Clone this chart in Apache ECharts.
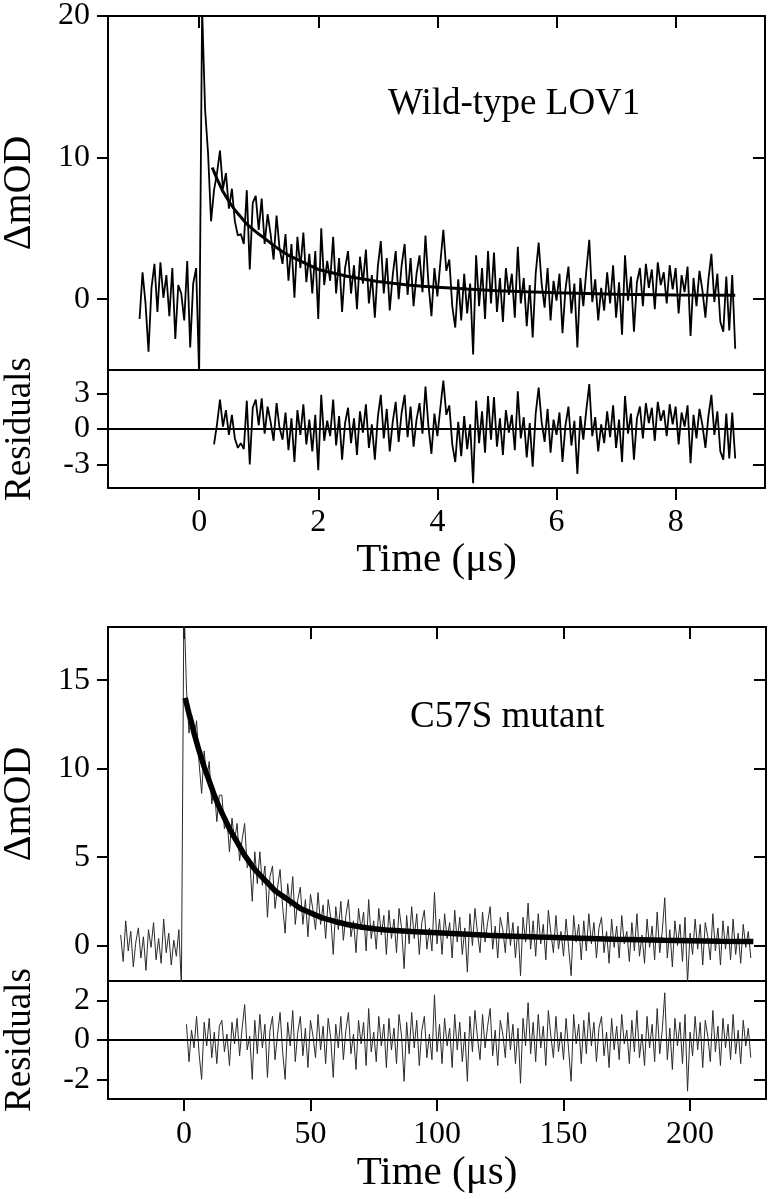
<!DOCTYPE html>
<html><head><meta charset="utf-8">
<script src="https://cdn.jsdelivr.net/npm/echarts@6/dist/echarts.min.js"></script>
<style>html,body{margin:0;padding:0;background:#fff}#c{width:769px;height:1199px}</style>
</head><body><div id="c"></div>
<script>
// ---------- Wild-type LOV1 (top panel), time in µs ----------
const topDataT0 = -1.0, topDataDt = 0.05;
const topData = [
 -1.4, 1.9, -0.3, -3.7, 0.8, 2.5, -0.9, 2.6, 0.1, 1.7, -1.2, 2.2, -2.8, 1.0, 0.4, -1.5, 2.7, -3.4, 1.1, 2.2,
 -5.4, 20.5, 13.4, 10.3, 5.5,
 7.7, 8.9, 10.5, 7.8, 8.9, 6.4, 7.8, 5.5, 4.5, 4.6, 3.9, 7.7, 2.1, 6.8, 7.3,
 4.9, 7.1, 3.9, 6.0, 4.6, 2.8, 5.9, 3.6, 2.5, 4.6, 1.3, 3.9, 0.1, 4.4, 2.2, 4.7, 1.2, 3.2, 0.4, 3.4,
 -1.4, 5.0, 1.0, 2.7, 1.3, 4.4, 0.4, 2.9, -0.9, 2.2, 3.4, 0.4, 2.4, -0.7, 3.0, 1.1, 3.5, -0.3, 1.7, -1.3,
 2.3, 4.1, 0.4, 2.9, -0.8, 1.7, 3.4, 0.0, 2.4, 3.9, 0.3, 2.9, -0.5, 1.8, 3.1, 0.5, 4.5, 1.1, -1.2, 2.2,
 0.2, 2.6, 4.9, 2.0, 2.8, -0.5, -2.0, 1.4, -1.5, 1.8, -1.0, 1.1, -3.9, 3.1, -0.5, 2.2, -1.4, 3.4, -0.3, 3.3,
 -0.9, 1.5, -1.6, 2.2, 0.3, 1.8, -1.3, 3.7, -0.3, 1.5, -1.9, 1.0, -2.7, 1.8, 4.0, 1.1, -0.6, 2.2, -1.5, 1.3,
 -0.1, 1.8, -2.4, 0.7, 2.3, -1.0, 1.1, -3.4, 1.5, -0.5, 2.0, 4.2, -0.2, 1.4, -1.5, 0.8, -0.8, 1.9, -0.3, 2.4,
 -1.3, 1.2, -2.5, 3.1, -0.1, 1.6, -2.3, 1.2, 2.2, -0.5, 2.5, 0.8, 2.1, -0.7, 2.6, 1.0, 1.9, -0.3, 2.4, 0.7,
 2.2, -1.0, 1.7, 0.5, 2.3, -2.6, 1.5, -0.5, 2.0, 0.6, -1.3, 1.4, 3.2, -0.2, 1.8, -1.6, -2.3, 1.6, -2.2, 1.7, -3.5
];
const topFitT = [0.22, 0.3, 0.4, 0.5, 0.6, 0.7, 0.8, 0.9, 1.0, 1.1, 1.25, 1.4, 1.5, 1.6, 1.75, 1.9, 2.0, 2.25, 2.5, 2.75, 3.0, 3.25, 3.5, 3.75, 4.0, 4.5, 5.0, 5.5, 6.0, 6.5, 7.0, 8.0, 9.0];
const topFitV = [9.3, 8.5, 7.6, 6.9, 6.3, 5.8, 5.3, 4.95, 4.6, 4.3, 3.8, 3.35, 3.1, 2.9, 2.6, 2.3, 2.1, 1.85, 1.6, 1.42, 1.25, 1.12, 1.0, 0.92, 0.85, 0.72, 0.6, 0.52, 0.45, 0.4, 0.35, 0.3, 0.28];
const topResT0 = 0.25, topResDt = 0.05;
const topRes = [
 -1.3, 0.4, 2.5, 0.2, 1.6, -0.5, 1.2, -0.8, -1.6, -1.2, -1.7, 2.4, -3.0, 1.8, 2.5,
 0.3, 2.6, -0.4, 1.9, 0.6, -1.0, 2.2, 0.1, -0.9, 1.4, -1.8, 0.9, -2.8, 1.6, -0.5, 2.1, -1.3, 0.8, -1.9, 1.2,
 -3.5, 2.9, -1.0, 0.7, -0.6, 2.5, -1.4, 1.1, -2.6, 0.5, 1.8, -1.2, 0.9, -2.2, 1.5, -0.3, 2.1, -1.6, 0.4, -2.6,
 1.0, 2.9, -0.8, 1.7, -1.9, 0.6, 2.3, -1.1, 1.4, 2.9, -0.7, 1.9, -1.5, 0.8, 2.2, -0.4, 3.6, 0.2, -2.1, 1.3,
 -0.6, 1.8, 4.1, 1.2, 2.0, -1.3, -2.8, 0.6, -2.3, 1.1, -1.7, 0.4, -4.6, 2.4, -1.2, 1.5, -2.0, 2.8, -0.9, 2.7,
 -1.5, 0.9, -2.2, 1.6, -0.3, 1.2, -1.8, 3.2, -0.8, 1.0, -2.4, 0.5, -3.2, 1.3, 3.5, 0.6, -1.1, 1.7, -2.0, 0.8,
 -0.5, 1.4, -2.8, 0.3, 1.9, -1.4, 0.7, -3.8, 1.1, -0.9, 1.6, 3.8, -0.6, 1.0, -1.9, 0.4, -1.2, 1.5, -0.7, 2.0,
 -1.6, 0.8, -2.8, 2.8, -0.4, 1.3, -2.6, 0.9, 1.9, -0.8, 2.2, 0.5, 1.8, -1.0, 2.3, 0.7, 1.6, -0.6, 2.1, 0.4,
 1.9, -1.3, 1.4, 0.2, 2.0, -2.9, 1.2, -0.8, 1.7, 0.3, -1.6, 1.1, 2.9, -0.5, 1.5, -1.9, -2.6, 1.3, -2.5, 1.4, -2.5
];
const topXTicks = [0, 2, 4, 6, 8];
const topYTicks = [0, 10, 20];
const topResTicks = [-3, 0, 3];

// ---------- C57S mutant (bottom panel), time in µs ----------
const botDataT0 = -25, botDataDt = 1;
const botData = [
 0.6, -0.9, 1.4, -0.3, 0.8, -1.2, 0.2, 1.0, -0.7, 0.5, -1.4, 0.9, -0.1, 1.3, -0.8, 0.4, -1.0, 1.5, -0.4, 0.7, -1.1, 0.3, -0.6, 0.9,
 -2.3, 19.5,
 14.5, 12.0, 13.1, 11.6, 12.7, 10.3, 8.6, 11.0, 9.4, 10.4, 8.0, 8.9, 7.0, 8.5, 8.5, 6.6, 7.2, 5.3, 7.2, 5.9,
 6.9, 4.8, 6.0, 6.9, 4.4, 4.9, 2.5, 5.3, 3.5, 5.3, 3.4, 4.5, 1.6, 3.9, 4.5, 2.1, 3.3, 4.3, 2.2, 0.7,
 3.5, 2.2, 3.9, 1.2, 2.6, 3.3, 1.2, 2.6, 0.5, 2.9, 2.0, 0.9, 3.0, 1.2, 2.3, 0.4, 2.6, 1.6, -0.5, 2.2,
 0.9, 2.5, 0.3, 1.7, 2.6, 0.5, 1.4, -0.4, 2.1, 0.9, 1.9, -0.3, 2.6, 0.4, 1.4, -0.2, 2.1, 0.6, 1.7, -0.5,
 2.0, 0.4, 1.5, -0.4, 2.1, 1.0, -1.3, 1.7, 0.1, 2.2, 0.4, 1.8, -0.5, 1.3, 2.0, -0.2, 1.0, -0.3, 3.0, 0.1,
 1.5, -0.5, 1.8, 0.4, 1.3, -0.7, 2.0, 0.2, 1.6, -0.5, 1.0, -1.5, 1.8, 0.0, 2.1, 0.7, -0.4, 1.9, 0.2, 1.3,
 2.2, -0.2, 1.1, -0.7, 1.6, 0.9, -0.4, 1.9, 0.0, 1.3, -0.7, 1.1, -1.7, 1.6, 0.2, 2.4, -0.2, 1.4, -0.6, 1.8,
 0.1, 1.2, -0.8, 2.0, 0.7, -0.4, 1.7, -0.2, 0.8, -0.6, 1.5, -0.1, -1.7, 1.7, 0.2, 1.2, -0.8, 1.4, -0.3, 1.8,
 0.1, 1.3, -0.7, 1.0, 1.6, -0.4, 0.8, -1.0, 1.5, -0.1, 1.1, -0.7, 1.7, 0.1, 0.8, -0.9, 1.3, -0.3, 1.8, -0.6,
 0.6, -1.0, 1.5, -0.1, 1.1, -0.8, 1.9, -0.4, 0.8, 2.7, -0.7, 0.9, -1.2, 1.4, 0.0, 1.2, -0.9, 1.6, -2.1, 0.7,
 -0.5, 1.5, -0.2, 1.2, -1.1, 1.3, 0.5, -0.8, 1.8, -0.3, 1.0, -1.1, 1.4, -0.2, 1.1, -0.8, 1.5, -0.5, 0.7, -1.0, 1.2, -0.1, 0.8, -0.7
];
const botFitT = [0.5, 1, 2, 3, 4, 5, 6, 8, 10, 12, 14, 16, 18, 20, 22, 24, 26, 28, 30, 32, 34, 36, 38, 40, 43, 46, 50, 55, 60, 65, 70, 75, 80, 90, 100, 110, 120, 130, 140, 150, 160, 170, 180, 190, 200, 212, 225];
const botFitV = [14.0, 13.7, 13.1, 12.6, 12.0, 11.5, 11.0, 10.1, 9.3, 8.5, 7.8, 7.2, 6.6, 6.1, 5.6, 5.1, 4.7, 4.3, 4.0, 3.7, 3.4, 3.1, 2.9, 2.7, 2.4, 2.1, 1.85, 1.55, 1.35, 1.18, 1.05, 0.95, 0.88, 0.79, 0.72, 0.65, 0.58, 0.53, 0.48, 0.44, 0.4, 0.36, 0.33, 0.3, 0.28, 0.25, 0.23];
const botResT0 = 1, botResDt = 1;
const botRes = [
 0.8, -1.1, 0.5, -0.4, 1.2, -0.7, -2.0, 0.9, -0.3, 1.1, -0.9, 0.4, -1.2, 0.7, 1.0, -0.6, 0.3, -1.3, 0.9, -0.2,
 1.1, -0.8, 0.6, 1.8, -0.5, 0.2, -2.0, 1.0, -0.7, 1.3, -0.4, 0.8, -1.9, 0.5, 1.2, -1.0, 0.3, 1.4, -0.6, -2.0,
 0.9, -0.3, 1.5, -1.1, 0.4, 1.2, -0.8, 0.6, -1.4, 1.0, 0.2, -0.9, 1.3, -0.5, 0.7, -1.2, 1.1, 0.1, -1.9, 0.8,
 -0.4, 1.2, -1.0, 0.5, 1.4, -0.7, 0.3, -1.5, 1.0, -0.2, 0.9, -1.3, 1.6, -0.6, 0.4, -1.1, 1.2, -0.3, 0.8, -1.4,
 1.1, -0.5, 0.6, -1.2, 1.3, 0.2, -2.1, 0.9, -0.7, 1.4, -0.4, 1.0, -1.3, 0.5, 1.2, -0.9, 0.3, -1.0, 2.3, -0.6,
 0.8, -1.2, 1.1, -0.3, 0.6, -1.4, 1.3, -0.5, 0.9, -1.1, 0.4, -2.1, 1.2, -0.6, 1.5, 0.1, -1.0, 1.3, -0.4, 0.7,
 1.6, -0.8, 0.5, -1.3, 1.0, 0.3, -0.9, 1.4, -0.5, 0.8, -1.2, 0.6, -2.2, 1.1, -0.3, 1.9, -0.7, 0.9, -1.1, 1.3,
 -0.4, 0.7, -1.3, 1.5, 0.2, -0.9, 1.2, -0.6, 0.4, -1.0, 1.1, -0.5, -2.1, 1.3, -0.2, 0.8, -1.2, 1.0, -0.7, 1.4,
 -0.3, 0.9, -1.1, 0.6, 1.2, -0.8, 0.4, -1.4, 1.1, -0.5, 0.7, -1.0, 1.3, -0.2, 0.5, -1.2, 1.0, -0.6, 1.5, -0.9,
 0.3, -1.3, 1.2, -0.4, 0.8, -1.1, 1.6, -0.7, 0.5, 2.4, -1.0, 0.6, -1.5, 1.1, -0.3, 0.9, -1.2, 1.3, -2.6, 0.4,
 -0.8, 1.2, -0.5, 0.9, -1.4, 1.0, 0.2, -1.1, 1.5, -0.6, 0.7, -1.3, 1.1, -0.4, 0.8, -1.0, 1.3, -0.7, 0.5, -1.2, 1.0, -0.3, 0.6, -0.9
];
const botXTicks = [0, 50, 100, 150, 200];
const botYTicks = [0, 5, 10, 15];
const botResTicks = [-2, 0, 2];

// ---------- helpers ----------
const FONT = '"Liberation Serif","Times New Roman",serif';
function sampled(t0, dt, arr) { return arr.map((v, i) => [Math.round((t0 + i * dt) * 1000) / 1000, v]); }
function zip(ts, vs) { return ts.map((t, i) => [t, vs[i]]); }

function axisCommon(gi, pos, min, max, ticks, o) {
  return {
    type: 'value', gridIndex: gi, position: pos, min: min, max: max,
    axisLine: { show: true, onZero: false, lineStyle: { color: '#000', width: 2 } },
    axisTick: { show: !!ticks, inside: !!o.inside, length: o.len || 12,
      customValues: ticks || [], lineStyle: { color: '#000', width: 2 } },
    axisLabel: { show: !!o.labels, customValues: ticks || [], margin: o.margin || 19,
      fontFamily: FONT, fontSize: 32, color: '#000' },
    splitLine: { show: false },
    name: o.name || '', nameLocation: 'middle', nameGap: o.nameGap || 0,
    nameTextStyle: { fontFamily: FONT, fontSize: o.nameSize || 40, color: '#000' }
  };
}

const grids = [
  { left: 108, right: 4, top: 16, height: 354, outerBoundsMode: 'none', containLabel: false },
  { left: 108, right: 4, top: 370, height: 118, outerBoundsMode: 'none', containLabel: false },
  { left: 108, right: 3, top: 627, height: 354, outerBoundsMode: 'none', containLabel: false },
  { left: 108, right: 3, top: 981, height: 118, outerBoundsMode: 'none', containLabel: false }
];

const xAxes = [
  axisCommon(0, 'bottom', -1.53, 9.5, null, {}),
  axisCommon(0, 'top', -1.53, 9.5, topXTicks, { inside: true }),
  axisCommon(1, 'bottom', -1.53, 9.5, topXTicks, { labels: true, margin: 19, name: 'Time (\u03bcs)', nameGap: 52, nameSize: 41 }),
  axisCommon(1, 'top', -1.53, 9.5, null, {}),
  axisCommon(2, 'bottom', -30, 230, null, {}),
  axisCommon(2, 'top', -30, 230, botXTicks, { inside: true }),
  axisCommon(3, 'bottom', -30, 230, botXTicks, { labels: true, margin: 20, name: 'Time (\u03bcs)', nameGap: 54, nameSize: 41 }),
  axisCommon(3, 'top', -30, 230, null, {})
];
const yAxes = [
  axisCommon(0, 'left', -5, 20, topYTicks, { labels: true, len: 11, margin: 18, name: '\u0394mOD', nameGap: 69, nameSize: 40 }),
  axisCommon(0, 'right', -5, 20, topYTicks, { inside: true }),
  axisCommon(1, 'left', -5, 5, topResTicks, { labels: true, len: 11, margin: 18, name: 'Residuals', nameGap: 69, nameSize: 37 }),
  axisCommon(1, 'right', -5, 5, topResTicks, { inside: true }),
  axisCommon(2, 'left', -2, 18, botYTicks, { labels: true, len: 11, margin: 18, name: '\u0394mOD', nameGap: 69, nameSize: 40 }),
  axisCommon(2, 'right', -2, 18, botYTicks, { inside: true }),
  axisCommon(3, 'left', -3, 3, botResTicks, { labels: true, len: 11, margin: 18, name: 'Residuals', nameGap: 69, nameSize: 37 }),
  axisCommon(3, 'right', -3, 3, botResTicks, { inside: true })
];

function lineSeries(gi, data, color, width, extra) {
  return Object.assign({
    type: 'line', xAxisIndex: gi * 2, yAxisIndex: gi * 2, data: data,
    symbol: 'none', showSymbol: false, silent: true, animation: false,
    lineStyle: { color: color, width: width }
  }, extra || {});
}
const zeroLine = (w) => ({ silent: true, symbol: ['none', 'none'], label: { show: false },
  lineStyle: { color: '#000', width: w, type: 'solid' }, data: [{ yAxis: 0 }] });

const chart = echarts.init(document.getElementById('c'), null, { renderer: 'canvas' });
chart.setOption({
  backgroundColor: '#fff',
  animation: false,
  grid: grids,
  xAxis: xAxes,
  yAxis: yAxes,
  series: [
    lineSeries(0, sampled(topDataT0, topDataDt, topData), '#000', 1.8),
    lineSeries(0, zip(topFitT, topFitV), '#000', 3),
    lineSeries(1, sampled(topResT0, topResDt, topRes), '#000', 1.8, { markLine: zeroLine(2) }),
    lineSeries(2, sampled(botDataT0, botDataDt, botData), '#2a2a2a', 1.0),
    lineSeries(2, zip(botFitT, botFitV), '#000', 5.5),
    lineSeries(3, sampled(botResT0, botResDt, botRes), '#2a2a2a', 1.0, { markLine: zeroLine(2) })
  ],
  graphic: [
    { type: 'text', x: 388, y: 104, silent: true,
      style: { text: 'Wild-type LOV1', font: '37px ' + FONT, fill: '#000', verticalAlign: 'middle', align: 'left' } },
    { type: 'text', x: 410, y: 717, silent: true,
      style: { text: 'C57S mutant', font: '37px ' + FONT, fill: '#000', verticalAlign: 'middle', align: 'left' } }
  ]
});
</script>
</body></html>
